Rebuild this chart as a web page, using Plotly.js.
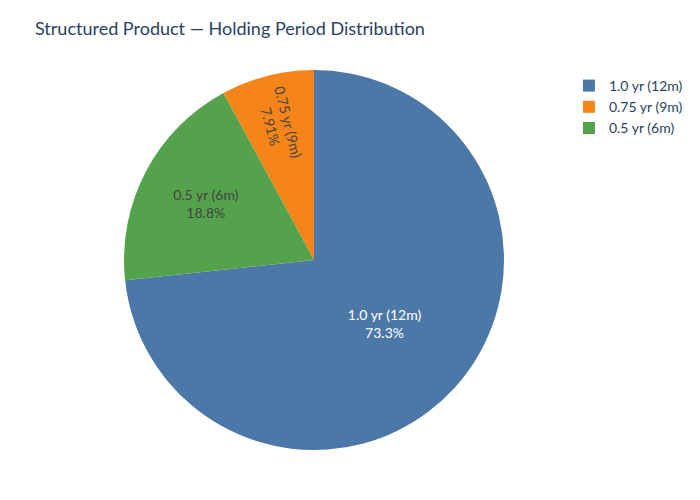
<!DOCTYPE html>
<html>
<head>
<meta charset="utf-8">
<script src="https://cdn.plot.ly/plotly-3.0.1.min.js"></script>
<style>html,body{margin:0;padding:0;background:#fff;}</style>
</head>
<body>
<div id="chart" style="width:700px;height:500px;"></div>
<script>
const labels = ["1.0 yr (12m)", "0.75 yr (9m)", "0.5 yr (6m)"];
const values = [73.3, 7.91, 18.8];
const colors = ["#4c78a8", "#f58518", "#54a24b"];

Plotly.newPlot("chart", [{
  type: "pie",
  labels: labels,
  values: values,
  sort: false,
  direction: "counterclockwise",
  marker: {colors: colors},
  textinfo: "label+percent",
  hoverinfo: "label+percent"
}], {
  title: {text: "Structured Product — Holding Period Distribution", x: 0.05, xanchor: "left", font: {size: 18, color: "#2a3f5f"}},
  font: {family: "'Source Sans Pro', Lato, 'Open Sans', sans-serif", size: 14, color: "#2a3f5f"},
  legend: {x: 1.014, y: 1, xanchor: "left", yanchor: "top"},
  margin: {l: 66, r: 66, t: 70, b: 50},
  paper_bgcolor: "#ffffff",
  plot_bgcolor: "#ffffff",
  width: 700,
  height: 500
}, {displayModeBar: false});
</script>
</body>
</html>
